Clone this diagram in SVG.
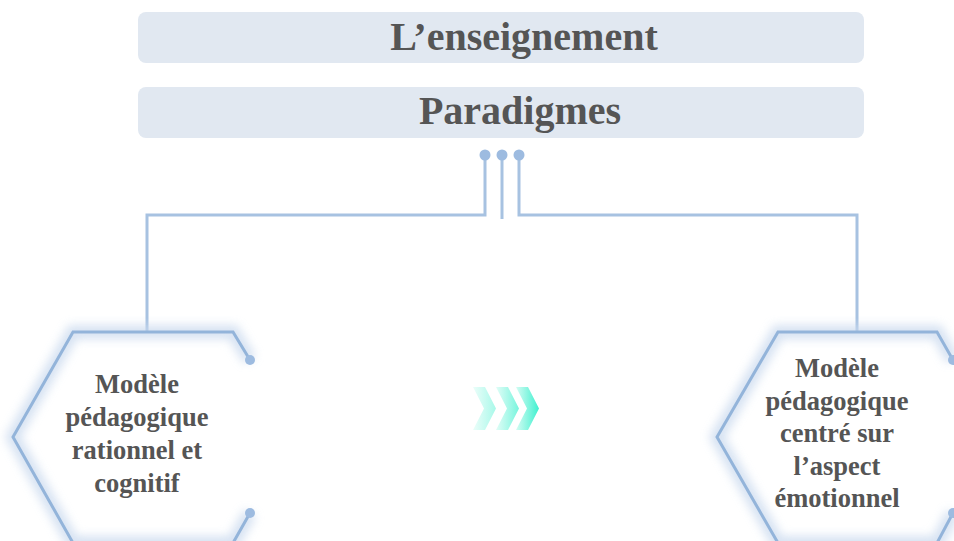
<svg xmlns="http://www.w3.org/2000/svg" width="954" height="541" viewBox="0 0 954 541">
<defs>
<style>
.bar{fill:#e1e8f1}
.title{font-family:"Liberation Serif","Times New Roman",serif;font-weight:bold;font-size:40px;fill:#555;text-anchor:middle}
.lbl{font-family:"Liberation Serif","Times New Roman",serif;font-weight:bold;font-size:26.5px;fill:#555;text-anchor:middle}
.wire{fill:none;stroke:#a7c2e1;stroke-width:3}
.dot{fill:#9dbbe0}
.hex{fill:none;stroke:#93b4da;stroke-width:3;stroke-linejoin:miter}
.glow{fill:none;stroke:#c9d9ee;stroke-width:14;opacity:0.75;filter:url(#blur)}
</style>
<filter id="blur" x="-20%" y="-20%" width="140%" height="140%"><feGaussianBlur stdDeviation="5"/></filter>
<linearGradient id="chev" x1="0" y1="0" x2="1" y2="0">
<stop offset="0" stop-color="#d4fcf3"/>
<stop offset="1" stop-color="#3ff0cf"/>
</linearGradient>
</defs>
<rect width="954" height="541" fill="#ffffff"/>
<g id="enseignement">
<rect class="bar" x="138" y="12" width="726" height="51" rx="8"/>
<text class="title" x="524" y="50">L’enseignement</text>
</g>
<g id="paradigmes">
<rect class="bar" x="138" y="87" width="726" height="51" rx="8"/>
<text class="title" x="520" y="124">Paradigmes</text>
</g>
<g id="connectors">
<path class="wire" d="M485,155 V215 H147 V332"/>
<path class="wire" d="M502,155 V219"/>
<path class="wire" d="M519,155 V215 H857 V332"/>
<circle class="dot" cx="485" cy="155" r="5.5"/>
<circle class="dot" cx="502" cy="155" r="5.5"/>
<circle class="dot" cx="519" cy="155" r="5.5"/>
</g>
<g id="hex-left">
<path class="glow" d="M250,360 L233,332 L73,332 L13,437 L73,543 L233,543 L250,513"/>
<path class="hex" d="M250,360 L233,332 L73,332 L13,437 L73,543 L233,543 L250,513"/>
<circle class="dot" cx="250" cy="360" r="5"/>
<circle class="dot" cx="250" cy="513" r="5"/>
<text class="lbl" x="137" y="393">Modèle</text>
<text class="lbl" x="137" y="426">pédagogique</text>
<text class="lbl" x="137" y="459">rationnel et</text>
<text class="lbl" x="137" y="492">cognitif</text>
</g>
<g id="hex-right">
<path class="glow" d="M953,360 L937,332 L778,332 L717,437 L778,543 L937,543 L953,513"/>
<path class="hex" d="M953,360 L937,332 L778,332 L717,437 L778,543 L937,543 L953,513"/>
<circle class="dot" cx="953" cy="360" r="5"/>
<circle class="dot" cx="953" cy="513" r="5"/>
<text class="lbl" x="837" y="377">Modèle</text>
<text class="lbl" x="837" y="409.5">pédagogique</text>
<text class="lbl" x="837" y="442">centré sur</text>
<text class="lbl" x="837" y="474.5">l’aspect</text>
<text class="lbl" x="837" y="507">émotionnel</text>
</g>
<g id="chevrons">
<polygon fill="url(#chev)" opacity="0.45" points="473,387 485,387 496,408.5 485,430 473,430 484,408.5"/>
<polygon fill="url(#chev)" opacity="0.7" points="496,387 508,387 519,408.5 508,430 496,430 507,408.5"/>
<polygon fill="url(#chev)" points="516,387 528,387 539,408.5 528,430 516,430 527,408.5"/>
</g>
</svg>
